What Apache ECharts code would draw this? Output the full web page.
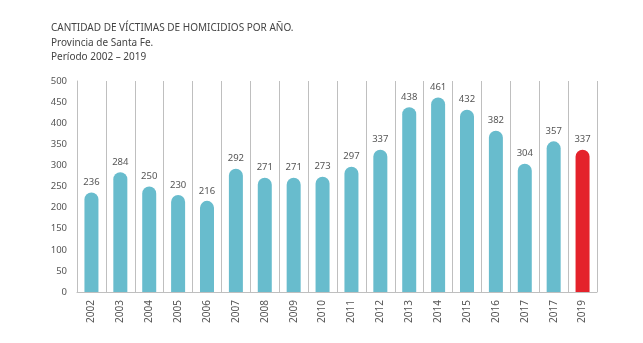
<!DOCTYPE html>
<html><head><meta charset="utf-8">
<script src="https://cdn.jsdelivr.net/npm/echarts@6/dist/echarts.min.js"></script>
<style>html,body{margin:0;padding:0;background:#fff}#c{width:643px;height:343px}</style>
</head><body><div id="c"></div>
<script>
const titleLines = ['CANTIDAD DE VÍCTIMAS DE HOMICIDIOS POR AÑO.', 'Provincia de Santa Fe.', 'Período 2002 – 2019'];
const categories = ['2002','2003','2004','2005','2006','2007','2008','2009','2010','2011','2012','2013','2014','2015','2016','2017','2017','2019'];
const values = [236,284,250,230,216,292,271,271,273,297,337,438,461,432,382,304,357,337];
const highlightIndex = 17;
const yTicks = {min: 0, max: 500, interval: 50};

const teal = '#68bccd', red = '#e4222b', gray = '#bfbfbf', textCol = '#555';
const chart = echarts.init(document.getElementById('c'));
chart.setOption({
  animation: false,
  title: {text: titleLines.join('\n'), left: 51, top: 21, padding: 0,
    textStyle: {fontFamily: 'Noto Sans', fontSize: 10, fontWeight: 'normal', color: '#444', lineHeight: 14.5}},
  grid: {left: 77, right: 46, top: 81, bottom: 51},
  xAxis: {type: 'category', data: categories,
    axisLine: {lineStyle: {color: gray}}, axisTick: {show: false},
    splitLine: {show: true, lineStyle: {color: gray}},
    axisLabel: {rotate: 90, interval: 0, margin: 8, color: textCol, fontFamily: 'Noto Sans', fontSize: 10}},
  yAxis: {type: 'value', min: yTicks.min, max: yTicks.max, interval: yTicks.interval,
    axisLine: {show: true, lineStyle: {color: gray}}, axisTick: {show: false}, splitLine: {show: false},
    axisLabel: {margin: 10, color: textCol, fontFamily: 'Noto Sans', fontSize: 9.5}},
  series: [{type: 'bar', barWidth: 14,
    data: values.map((v, i) => ({value: v, itemStyle: {color: i === highlightIndex ? red : teal}})),
    itemStyle: {borderRadius: [7,7,0,0]},
    label: {show: true, position: 'top', distance: 5, color: textCol, fontFamily: 'Noto Sans', fontSize: 9.5}}]
});
</script></body></html>
